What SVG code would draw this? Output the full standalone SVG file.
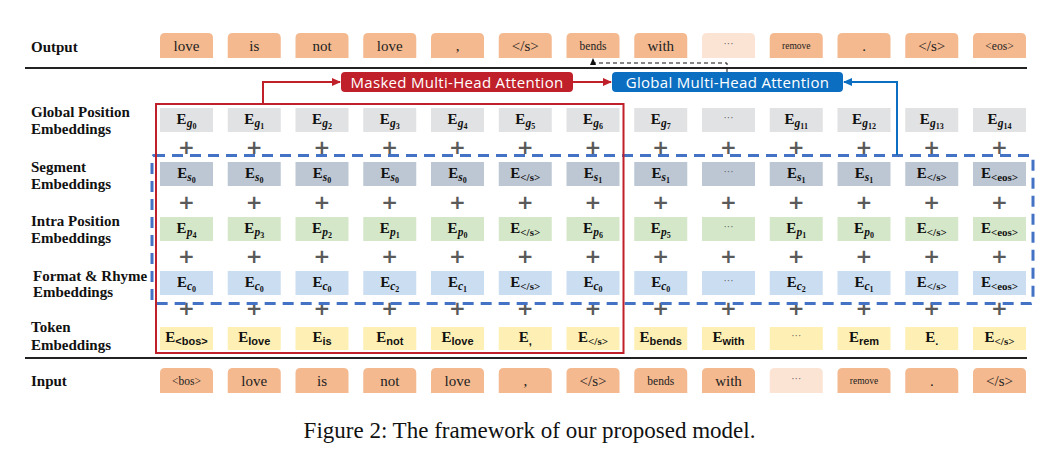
<svg xmlns="http://www.w3.org/2000/svg" width="1054" height="449" viewBox="0 0 1054 449">
<style>
.lbl{font-family:"Liberation Serif",serif;font-weight:bold;font-size:15px;fill:#111}
.tok{font-family:"Liberation Serif",serif;font-size:15px;fill:#222;text-anchor:middle}
.tks{font-size:11.5px}
.tkx{font-size:9.5px}
.ob{fill:#F4B98F}
.ol{fill:#FCE4D5}
.eg{fill:#E1E2E4}.es{fill:#BDC7D4}.ep{fill:#D5E7C9}.ec{fill:#CBDEF1}.et{fill:#FEF0B4}
.E{font-family:"Liberation Serif",serif;font-weight:bold;font-size:15px;text-anchor:middle;fill:#111}
.sub{font-style:italic;font-size:11.5px}
.ss{font-size:8px;font-style:normal}
.sx{font-size:11px}
.ts{font-family:"Liberation Sans",sans-serif;font-size:11px}
.dots{font-family:"Liberation Serif",serif;font-size:10px;fill:#555;text-anchor:middle}
.plus{font-family:"DejaVu Sans",sans-serif;font-weight:bold;font-size:20px;fill:#5a5a5a;text-anchor:middle}
.att{font-family:"Open Sans",sans-serif;font-size:15px;letter-spacing:0.3px;fill:#fff;text-anchor:middle}
.sep{stroke:#222;stroke-width:1.8;fill:none}
</style>
<defs>
<marker id="ar" markerUnits="userSpaceOnUse" markerWidth="9" markerHeight="8" refX="8" refY="4" orient="auto"><path d="M0,0 L9,4 L0,8 z" fill="#C0202A"/></marker>
<marker id="ab" markerUnits="userSpaceOnUse" markerWidth="9" markerHeight="8" refX="8" refY="4" orient="auto"><path d="M0,0 L9,4 L0,8 z" fill="#0B6EC1"/></marker>
<marker id="ak" markerUnits="userSpaceOnUse" markerWidth="7" markerHeight="6" refX="6" refY="3" orient="auto"><path d="M0,0 L7,3 L0,6 z" fill="#111"/></marker>
</defs>
<rect width="1054" height="449" fill="#fff"/>

<g id="row-labels">
<text class="lbl" x="31" y="52">Output</text>
<text class="lbl" x="31" y="117">Global Position</text>
<text class="lbl" x="31" y="133.5">Embeddings</text>
<text class="lbl" x="31" y="172">Segment</text>
<text class="lbl" x="31" y="189">Embeddings</text>
<text class="lbl" x="31" y="226">Intra Position</text>
<text class="lbl" x="31" y="242.5">Embeddings</text>
<text class="lbl" x="33" y="280.5">Format &amp; Rhyme</text>
<text class="lbl" x="33" y="296.5">Embeddings</text>
<text class="lbl" x="31" y="332">Token</text>
<text class="lbl" x="31" y="349.5">Embeddings</text>
<text class="lbl" x="31" y="386">Input</text>
</g>

<g id="separators">
<line class="sep" x1="25" y1="68" x2="1027" y2="68"/>
<line class="sep" x1="25" y1="358" x2="1027" y2="358"/>
</g>

<g id="output-row">
<path class="ob" d="M160,58 v-20 q0,-5 5,-5 h43 q5,0 5,5 v20 z"/><text class="tok" x="186.5" y="50.5">love</text>
<path class="ob" d="M227.75,58 v-20 q0,-5 5,-5 h43 q5,0 5,5 v20 z"/><text class="tok" x="254.25" y="50.5">is</text>
<path class="ob" d="M295.5,58 v-20 q0,-5 5,-5 h43 q5,0 5,5 v20 z"/><text class="tok" x="322" y="50.5">not</text>
<path class="ob" d="M363.25,58 v-20 q0,-5 5,-5 h43 q5,0 5,5 v20 z"/><text class="tok" x="389.75" y="50.5">love</text>
<path class="ob" d="M431,58 v-20 q0,-5 5,-5 h43 q5,0 5,5 v20 z"/><text class="tok" x="457.5" y="50.5">,</text>
<path class="ob" d="M498.75,58 v-20 q0,-5 5,-5 h43 q5,0 5,5 v20 z"/><text class="tok" x="525.25" y="50.5">&lt;/s&gt;</text>
<path class="ob" d="M566.5,58 v-20 q0,-5 5,-5 h43 q5,0 5,5 v20 z"/><text class="tok tks" x="593" y="49.5">bends</text>
<path class="ob" d="M634.25,58 v-20 q0,-5 5,-5 h43 q5,0 5,5 v20 z"/><text class="tok" x="660.75" y="50.5">with</text>
<path class="ol" d="M702,58 v-20 q0,-5 5,-5 h43 q5,0 5,5 v20 z"/><text class="dots" x="728.5" y="47">···</text>
<path class="ob" d="M769.75,58 v-20 q0,-5 5,-5 h43 q5,0 5,5 v20 z"/><text class="tok tkx" x="796.25" y="49">remove</text>
<path class="ob" d="M837.5,58 v-20 q0,-5 5,-5 h43 q5,0 5,5 v20 z"/><text class="tok" x="864" y="50.5">.</text>
<path class="ob" d="M905.25,58 v-20 q0,-5 5,-5 h43 q5,0 5,5 v20 z"/><text class="tok" x="931.75" y="50.5">&lt;/s&gt;</text>
<path class="ob" d="M973,58 v-20 q0,-5 5,-5 h43 q5,0 5,5 v20 z"/><text class="tok tks" x="999.5" y="49.5">&lt;eos&gt;</text>
</g>

<g id="attention-nodes">
<g id="masked-attention"><rect x="341" y="72" width="232" height="20" rx="4" fill="#C0202A"/><text class="att" x="457" y="87.5">Masked Multi-Head Attention</text></g>
<g id="global-attention"><rect x="612" y="72" width="231" height="20" rx="4" fill="#0B6EC1"/><text class="att" x="727.5" y="87.5">Global Multi-Head Attention</text></g>
</g>

<g id="global-position-row">
<rect class="eg" x="160" y="108" width="53" height="24"/><text class="E" x="186.5" y="123.5">E<tspan class="sub" dy="3">g</tspan><tspan class="ss" dy="2">0</tspan></text>
<rect class="eg" x="227.75" y="108" width="53" height="24"/><text class="E" x="254.25" y="123.5">E<tspan class="sub" dy="3">g</tspan><tspan class="ss" dy="2">1</tspan></text>
<rect class="eg" x="295.5" y="108" width="53" height="24"/><text class="E" x="322" y="123.5">E<tspan class="sub" dy="3">g</tspan><tspan class="ss" dy="2">2</tspan></text>
<rect class="eg" x="363.25" y="108" width="53" height="24"/><text class="E" x="389.75" y="123.5">E<tspan class="sub" dy="3">g</tspan><tspan class="ss" dy="2">3</tspan></text>
<rect class="eg" x="431" y="108" width="53" height="24"/><text class="E" x="457.5" y="123.5">E<tspan class="sub" dy="3">g</tspan><tspan class="ss" dy="2">4</tspan></text>
<rect class="eg" x="498.75" y="108" width="53" height="24"/><text class="E" x="525.25" y="123.5">E<tspan class="sub" dy="3">g</tspan><tspan class="ss" dy="2">5</tspan></text>
<rect class="eg" x="566.5" y="108" width="53" height="24"/><text class="E" x="593" y="123.5">E<tspan class="sub" dy="3">g</tspan><tspan class="ss" dy="2">6</tspan></text>
<rect class="eg" x="634.25" y="108" width="53" height="24"/><text class="E" x="660.75" y="123.5">E<tspan class="sub" dy="3">g</tspan><tspan class="ss" dy="2">7</tspan></text>
<rect class="eg" x="702" y="108" width="53" height="24"/><text class="dots" x="728.5" y="121">···</text>
<rect class="eg" x="769.75" y="108" width="53" height="24"/><text class="E" x="796.25" y="123.5">E<tspan class="sub" dy="3">g</tspan><tspan class="ss" dy="2">11</tspan></text>
<rect class="eg" x="837.5" y="108" width="53" height="24"/><text class="E" x="864" y="123.5">E<tspan class="sub" dy="3">g</tspan><tspan class="ss" dy="2">12</tspan></text>
<rect class="eg" x="905.25" y="108" width="53" height="24"/><text class="E" x="931.75" y="123.5">E<tspan class="sub" dy="3">g</tspan><tspan class="ss" dy="2">13</tspan></text>
<rect class="eg" x="973" y="108" width="53" height="24"/><text class="E" x="999.5" y="123.5">E<tspan class="sub" dy="3">g</tspan><tspan class="ss" dy="2">14</tspan></text>
</g>

<g id="segment-row">
<rect class="es" x="160" y="162" width="53" height="24"/><text class="E" x="186.5" y="177.5">E<tspan class="sub" dy="3">s</tspan><tspan class="ss" dy="2">0</tspan></text>
<rect class="es" x="227.75" y="162" width="53" height="24"/><text class="E" x="254.25" y="177.5">E<tspan class="sub" dy="3">s</tspan><tspan class="ss" dy="2">0</tspan></text>
<rect class="es" x="295.5" y="162" width="53" height="24"/><text class="E" x="322" y="177.5">E<tspan class="sub" dy="3">s</tspan><tspan class="ss" dy="2">0</tspan></text>
<rect class="es" x="363.25" y="162" width="53" height="24"/><text class="E" x="389.75" y="177.5">E<tspan class="sub" dy="3">s</tspan><tspan class="ss" dy="2">0</tspan></text>
<rect class="es" x="431" y="162" width="53" height="24"/><text class="E" x="457.5" y="177.5">E<tspan class="sub" dy="3">s</tspan><tspan class="ss" dy="2">0</tspan></text>
<rect class="es" x="498.75" y="162" width="53" height="24"/><text class="E" x="525.25" y="177.5">E<tspan class="sx" dy="3">&lt;/s&gt;</tspan></text>
<rect class="es" x="566.5" y="162" width="53" height="24"/><text class="E" x="593" y="177.5">E<tspan class="sub" dy="3">s</tspan><tspan class="ss" dy="2">1</tspan></text>
<rect class="es" x="634.25" y="162" width="53" height="24"/><text class="E" x="660.75" y="177.5">E<tspan class="sub" dy="3">s</tspan><tspan class="ss" dy="2">1</tspan></text>
<rect class="es" x="702" y="162" width="53" height="24"/><text class="dots" x="728.5" y="175">···</text>
<rect class="es" x="769.75" y="162" width="53" height="24"/><text class="E" x="796.25" y="177.5">E<tspan class="sub" dy="3">s</tspan><tspan class="ss" dy="2">1</tspan></text>
<rect class="es" x="837.5" y="162" width="53" height="24"/><text class="E" x="864" y="177.5">E<tspan class="sub" dy="3">s</tspan><tspan class="ss" dy="2">1</tspan></text>
<rect class="es" x="905.25" y="162" width="53" height="24"/><text class="E" x="931.75" y="177.5">E<tspan class="sx" dy="3">&lt;/s&gt;</tspan></text>
<rect class="es" x="973" y="162" width="53" height="24"/><text class="E" x="999.5" y="177.5">E<tspan class="sx" dy="3">&lt;eos&gt;</tspan></text>
</g>

<g id="intra-position-row">
<rect class="ep" x="160" y="217" width="53" height="24"/><text class="E" x="186.5" y="232.5">E<tspan class="sub" dy="3">p</tspan><tspan class="ss" dy="2">4</tspan></text>
<rect class="ep" x="227.75" y="217" width="53" height="24"/><text class="E" x="254.25" y="232.5">E<tspan class="sub" dy="3">p</tspan><tspan class="ss" dy="2">3</tspan></text>
<rect class="ep" x="295.5" y="217" width="53" height="24"/><text class="E" x="322" y="232.5">E<tspan class="sub" dy="3">p</tspan><tspan class="ss" dy="2">2</tspan></text>
<rect class="ep" x="363.25" y="217" width="53" height="24"/><text class="E" x="389.75" y="232.5">E<tspan class="sub" dy="3">p</tspan><tspan class="ss" dy="2">1</tspan></text>
<rect class="ep" x="431" y="217" width="53" height="24"/><text class="E" x="457.5" y="232.5">E<tspan class="sub" dy="3">p</tspan><tspan class="ss" dy="2">0</tspan></text>
<rect class="ep" x="498.75" y="217" width="53" height="24"/><text class="E" x="525.25" y="232.5">E<tspan class="sx" dy="3">&lt;/s&gt;</tspan></text>
<rect class="ep" x="566.5" y="217" width="53" height="24"/><text class="E" x="593" y="232.5">E<tspan class="sub" dy="3">p</tspan><tspan class="ss" dy="2">6</tspan></text>
<rect class="ep" x="634.25" y="217" width="53" height="24"/><text class="E" x="660.75" y="232.5">E<tspan class="sub" dy="3">p</tspan><tspan class="ss" dy="2">5</tspan></text>
<rect class="ep" x="702" y="217" width="53" height="24"/><text class="dots" x="728.5" y="230">···</text>
<rect class="ep" x="769.75" y="217" width="53" height="24"/><text class="E" x="796.25" y="232.5">E<tspan class="sub" dy="3">p</tspan><tspan class="ss" dy="2">1</tspan></text>
<rect class="ep" x="837.5" y="217" width="53" height="24"/><text class="E" x="864" y="232.5">E<tspan class="sub" dy="3">p</tspan><tspan class="ss" dy="2">0</tspan></text>
<rect class="ep" x="905.25" y="217" width="53" height="24"/><text class="E" x="931.75" y="232.5">E<tspan class="sx" dy="3">&lt;/s&gt;</tspan></text>
<rect class="ep" x="973" y="217" width="53" height="24"/><text class="E" x="999.5" y="232.5">E<tspan class="sx" dy="3">&lt;eos&gt;</tspan></text>
</g>

<g id="format-rhyme-row">
<rect class="ec" x="160" y="271" width="53" height="24"/><text class="E" x="186.5" y="286.5">E<tspan class="sub" dy="3">c</tspan><tspan class="ss" dy="2">0</tspan></text>
<rect class="ec" x="227.75" y="271" width="53" height="24"/><text class="E" x="254.25" y="286.5">E<tspan class="sub" dy="3">c</tspan><tspan class="ss" dy="2">0</tspan></text>
<rect class="ec" x="295.5" y="271" width="53" height="24"/><text class="E" x="322" y="286.5">E<tspan class="sub" dy="3">c</tspan><tspan class="ss" dy="2">0</tspan></text>
<rect class="ec" x="363.25" y="271" width="53" height="24"/><text class="E" x="389.75" y="286.5">E<tspan class="sub" dy="3">c</tspan><tspan class="ss" dy="2">2</tspan></text>
<rect class="ec" x="431" y="271" width="53" height="24"/><text class="E" x="457.5" y="286.5">E<tspan class="sub" dy="3">c</tspan><tspan class="ss" dy="2">1</tspan></text>
<rect class="ec" x="498.75" y="271" width="53" height="24"/><text class="E" x="525.25" y="286.5">E<tspan class="sx" dy="3">&lt;/s&gt;</tspan></text>
<rect class="ec" x="566.5" y="271" width="53" height="24"/><text class="E" x="593" y="286.5">E<tspan class="sub" dy="3">c</tspan><tspan class="ss" dy="2">0</tspan></text>
<rect class="ec" x="634.25" y="271" width="53" height="24"/><text class="E" x="660.75" y="286.5">E<tspan class="sub" dy="3">c</tspan><tspan class="ss" dy="2">0</tspan></text>
<rect class="ec" x="702" y="271" width="53" height="24"/><text class="dots" x="728.5" y="284">···</text>
<rect class="ec" x="769.75" y="271" width="53" height="24"/><text class="E" x="796.25" y="286.5">E<tspan class="sub" dy="3">c</tspan><tspan class="ss" dy="2">2</tspan></text>
<rect class="ec" x="837.5" y="271" width="53" height="24"/><text class="E" x="864" y="286.5">E<tspan class="sub" dy="3">c</tspan><tspan class="ss" dy="2">1</tspan></text>
<rect class="ec" x="905.25" y="271" width="53" height="24"/><text class="E" x="931.75" y="286.5">E<tspan class="sx" dy="3">&lt;/s&gt;</tspan></text>
<rect class="ec" x="973" y="271" width="53" height="24"/><text class="E" x="999.5" y="286.5">E<tspan class="sx" dy="3">&lt;eos&gt;</tspan></text>
</g>

<g id="token-row">
<rect class="et" x="160" y="327" width="53" height="23"/><text class="E" x="186.5" y="341.5">E<tspan class="ts" dy="3">&lt;bos&gt;</tspan></text>
<rect class="et" x="227.75" y="327" width="53" height="23"/><text class="E" x="254.25" y="341.5">E<tspan class="ts" dy="3">love</tspan></text>
<rect class="et" x="295.5" y="327" width="53" height="23"/><text class="E" x="322" y="341.5">E<tspan class="ts" dy="3">is</tspan></text>
<rect class="et" x="363.25" y="327" width="53" height="23"/><text class="E" x="389.75" y="341.5">E<tspan class="ts" dy="3">not</tspan></text>
<rect class="et" x="431" y="327" width="53" height="23"/><text class="E" x="457.5" y="341.5">E<tspan class="ts" dy="3">love</tspan></text>
<rect class="et" x="498.75" y="327" width="53" height="23"/><text class="E" x="525.25" y="341.5">E<tspan class="ts" dy="3">,</tspan></text>
<rect class="et" x="566.5" y="327" width="53" height="23"/><text class="E" x="593" y="341.5">E<tspan class="sx" dy="3">&lt;/s&gt;</tspan></text>
<rect class="et" x="634.25" y="327" width="53" height="23"/><text class="E" x="660.75" y="341.5">E<tspan class="ts" dy="3">bends</tspan></text>
<rect class="et" x="702" y="327" width="53" height="23"/><text class="E" x="728.5" y="341.5">E<tspan class="ts" dy="3">with</tspan></text>
<rect class="et" x="769.75" y="327" width="53" height="23"/><text class="dots" x="796.25" y="339">···</text>
<rect class="et" x="837.5" y="327" width="53" height="23"/><text class="E" x="864" y="341.5">E<tspan class="ts" dy="3">rem</tspan></text>
<rect class="et" x="905.25" y="327" width="53" height="23"/><text class="E" x="931.75" y="341.5">E<tspan class="ts" dy="3">.</tspan></text>
<rect class="et" x="973" y="327" width="53" height="23"/><text class="E" x="999.5" y="341.5">E<tspan class="sx" dy="3">&lt;/s&gt;</tspan></text>
</g>

<g id="plus-signs">
<text class="plus" x="186.5" y="153.5">+</text><text class="plus" x="254.25" y="153.5">+</text><text class="plus" x="322" y="153.5">+</text><text class="plus" x="389.75" y="153.5">+</text><text class="plus" x="457.5" y="153.5">+</text><text class="plus" x="525.25" y="153.5">+</text><text class="plus" x="593" y="153.5">+</text><text class="plus" x="660.75" y="153.5">+</text><text class="plus" x="728.5" y="153.5">+</text><text class="plus" x="796.25" y="153.5">+</text><text class="plus" x="864" y="153.5">+</text><text class="plus" x="931.75" y="153.5">+</text><text class="plus" x="999.5" y="153.5">+</text>
<text class="plus" x="186.5" y="208.5">+</text><text class="plus" x="254.25" y="208.5">+</text><text class="plus" x="322" y="208.5">+</text><text class="plus" x="389.75" y="208.5">+</text><text class="plus" x="457.5" y="208.5">+</text><text class="plus" x="525.25" y="208.5">+</text><text class="plus" x="593" y="208.5">+</text><text class="plus" x="660.75" y="208.5">+</text><text class="plus" x="728.5" y="208.5">+</text><text class="plus" x="796.25" y="208.5">+</text><text class="plus" x="864" y="208.5">+</text><text class="plus" x="931.75" y="208.5">+</text><text class="plus" x="999.5" y="208.5">+</text>
<text class="plus" x="186.5" y="262.5">+</text><text class="plus" x="254.25" y="262.5">+</text><text class="plus" x="322" y="262.5">+</text><text class="plus" x="389.75" y="262.5">+</text><text class="plus" x="457.5" y="262.5">+</text><text class="plus" x="525.25" y="262.5">+</text><text class="plus" x="593" y="262.5">+</text><text class="plus" x="660.75" y="262.5">+</text><text class="plus" x="728.5" y="262.5">+</text><text class="plus" x="796.25" y="262.5">+</text><text class="plus" x="864" y="262.5">+</text><text class="plus" x="931.75" y="262.5">+</text><text class="plus" x="999.5" y="262.5">+</text>
<text class="plus" x="186.5" y="314.5">+</text><text class="plus" x="254.25" y="314.5">+</text><text class="plus" x="322" y="314.5">+</text><text class="plus" x="389.75" y="314.5">+</text><text class="plus" x="457.5" y="314.5">+</text><text class="plus" x="525.25" y="314.5">+</text><text class="plus" x="593" y="314.5">+</text><text class="plus" x="660.75" y="314.5">+</text><text class="plus" x="728.5" y="314.5">+</text><text class="plus" x="796.25" y="314.5">+</text><text class="plus" x="864" y="314.5">+</text><text class="plus" x="931.75" y="314.5">+</text><text class="plus" x="999.5" y="314.5">+</text>
</g>

<g id="input-row">
<path class="ob" d="M160,393 v-20 q0,-5 5,-5 h43 q5,0 5,5 v20 z"/><text class="tok tks" x="186.5" y="384.5">&lt;bos&gt;</text>
<path class="ob" d="M227.75,393 v-20 q0,-5 5,-5 h43 q5,0 5,5 v20 z"/><text class="tok" x="254.25" y="385.5">love</text>
<path class="ob" d="M295.5,393 v-20 q0,-5 5,-5 h43 q5,0 5,5 v20 z"/><text class="tok" x="322" y="385.5">is</text>
<path class="ob" d="M363.25,393 v-20 q0,-5 5,-5 h43 q5,0 5,5 v20 z"/><text class="tok" x="389.75" y="385.5">not</text>
<path class="ob" d="M431,393 v-20 q0,-5 5,-5 h43 q5,0 5,5 v20 z"/><text class="tok" x="457.5" y="385.5">love</text>
<path class="ob" d="M498.75,393 v-20 q0,-5 5,-5 h43 q5,0 5,5 v20 z"/><text class="tok" x="525.25" y="385.5">,</text>
<path class="ob" d="M566.5,393 v-20 q0,-5 5,-5 h43 q5,0 5,5 v20 z"/><text class="tok" x="593" y="385.5">&lt;/s&gt;</text>
<path class="ob" d="M634.25,393 v-20 q0,-5 5,-5 h43 q5,0 5,5 v20 z"/><text class="tok tks" x="660.75" y="384.5">bends</text>
<path class="ob" d="M702,393 v-20 q0,-5 5,-5 h43 q5,0 5,5 v20 z"/><text class="tok" x="728.5" y="385.5">with</text>
<path class="ol" d="M769.75,393 v-20 q0,-5 5,-5 h43 q5,0 5,5 v20 z"/><text class="dots" x="796.25" y="382">···</text>
<path class="ob" d="M837.5,393 v-20 q0,-5 5,-5 h43 q5,0 5,5 v20 z"/><text class="tok tkx" x="864" y="384">remove</text>
<path class="ob" d="M905.25,393 v-20 q0,-5 5,-5 h43 q5,0 5,5 v20 z"/><text class="tok" x="931.75" y="385.5">.</text>
<path class="ob" d="M973,393 v-20 q0,-5 5,-5 h43 q5,0 5,5 v20 z"/><text class="tok" x="999.5" y="385.5">&lt;/s&gt;</text>
</g>

<g id="connectors" fill="none">
<rect id="global-scope" x="152" y="155.5" width="881" height="148" rx="2" stroke="#4472C4" stroke-width="3" stroke-dasharray="11 7"/>
<rect id="masked-scope" x="156" y="104" width="467.5" height="249" stroke="#C0202A" stroke-width="2"/>
<path d="M263,104 V82 H340" stroke="#C0202A" stroke-width="2" marker-end="url(#ar)"/>
<path d="M573,82 H611" stroke="#C0202A" stroke-width="2" marker-end="url(#ar)"/>
<path d="M897,155 V82 H844" stroke="#0B6EC1" stroke-width="2" marker-end="url(#ab)"/>
<path d="M727,72 V63 H593 V59" stroke="#111" stroke-width="1" stroke-dasharray="4 3" marker-end="url(#ak)"/>
</g>

<text id="caption" x="529.5" y="438" font-family="'Liberation Serif',serif" font-size="23" fill="#111" text-anchor="middle">Figure 2: The framework of our proposed model.</text>
</svg>
